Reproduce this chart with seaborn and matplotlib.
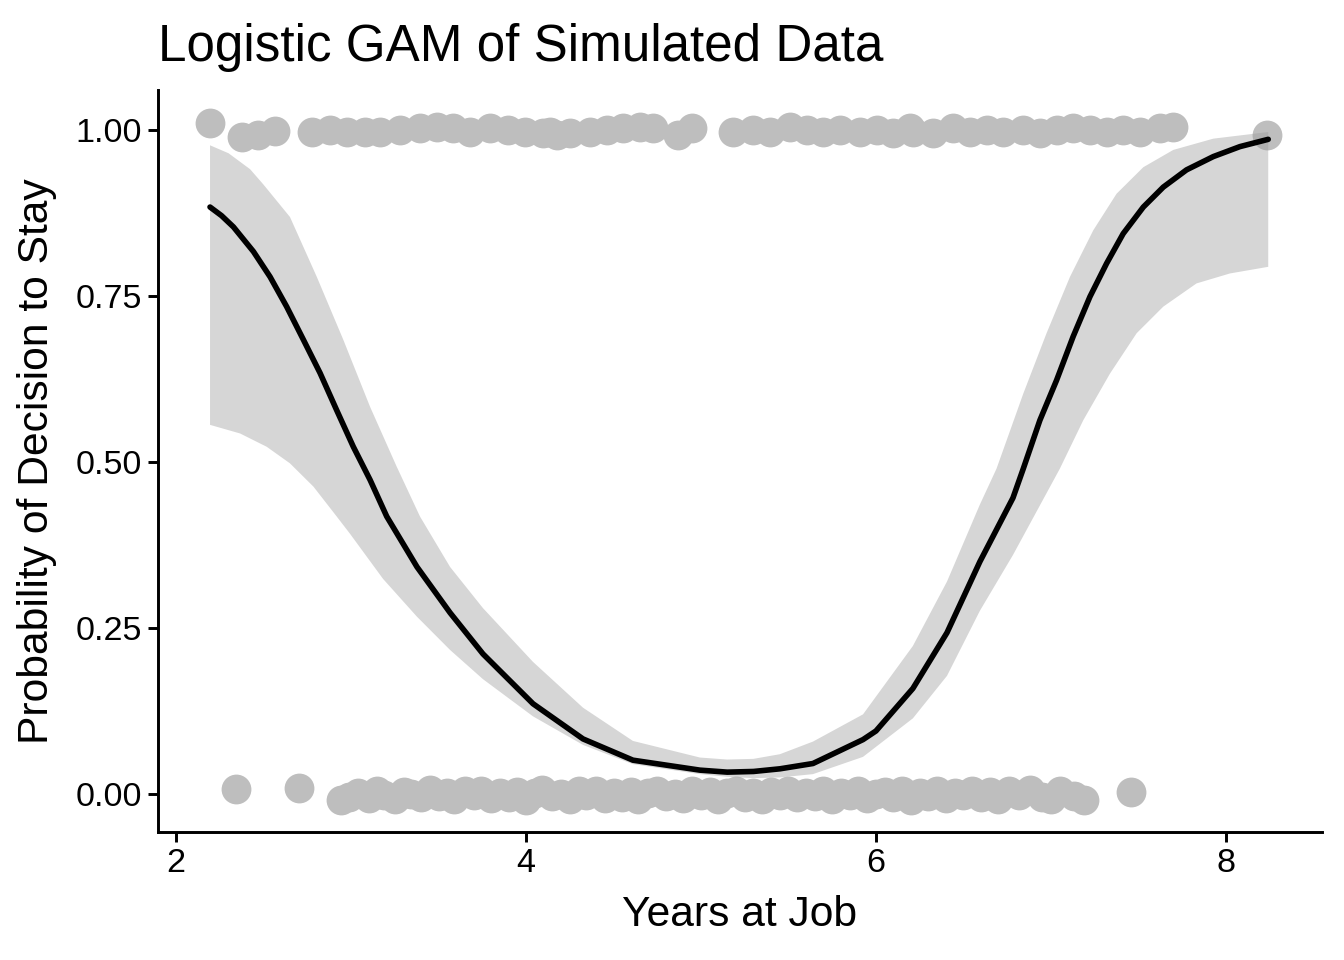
import matplotlib
matplotlib.use("Agg")
import matplotlib.pyplot as plt
import seaborn as sns
import pandas as pd

# observed points, decision to stay = 1 (x, jittered y)
stay_x = [2.194, 2.377, 2.469, 2.566, 2.777, 2.880, 2.977, 3.080, 3.166, 3.280,
          3.394, 3.491, 3.583, 3.680, 3.794, 3.897, 3.994, 4.097, 4.137, 4.177,
          4.251, 4.366, 4.463, 4.554, 4.651, 4.726, 4.869, 4.949, 5.183, 5.297,
          5.394, 5.509, 5.606, 5.697, 5.794, 5.909, 6.006, 6.097, 6.194, 6.211,
          6.326, 6.440, 6.537, 6.634, 6.726, 6.840, 6.937, 7.034, 7.126, 7.223,
          7.320, 7.411, 7.509, 7.623, 7.697, 8.234]
stay_y = [1.011, 0.990, 0.993, 0.998, 0.997, 1.000, 0.997, 0.997, 0.997, 1.000,
          1.003, 1.005, 1.003, 0.997, 1.003, 1.000, 0.997, 0.995, 0.997, 0.992,
          0.995, 0.997, 1.000, 1.003, 1.005, 1.003, 0.992, 1.003, 0.997, 1.000,
          0.997, 1.005, 1.000, 0.997, 1.000, 0.997, 1.000, 0.995, 1.003, 0.997,
          0.995, 1.003, 0.997, 1.000, 0.997, 1.000, 0.995, 1.000, 1.003, 1.000,
          0.997, 1.000, 0.997, 1.003, 1.005, 0.993]

# observed points, decision to stay = 0
leave_x = [2.34, 2.70, 2.94, 2.99, 3.04, 3.10, 3.15, 3.19, 3.25, 3.30, 3.34, 3.40,
           3.45, 3.50, 3.55, 3.59, 3.65, 3.70, 3.74, 3.80, 3.85, 3.90, 3.95, 4.00,
           4.05, 4.09, 4.15, 4.20, 4.25, 4.30, 4.34, 4.40, 4.45, 4.50, 4.55, 4.60,
           4.64, 4.70, 4.75, 4.80, 4.85, 4.90, 4.95, 5.00, 5.05, 5.10, 5.15, 5.20,
           5.25, 5.30, 5.35, 5.40, 5.45, 5.50, 5.55, 5.60, 5.65, 5.70, 5.75, 5.80,
           5.85, 5.90, 5.95, 6.00, 6.05, 6.10, 6.15, 6.20, 6.25, 6.30, 6.35, 6.40,
           6.45, 6.50, 6.55, 6.60, 6.65, 6.70, 6.76, 6.82, 6.88, 6.95, 7.00, 7.05,
           7.13, 7.19, 7.46]
leave_y = [0.008, 0.009, -0.009, -0.004, 0.002, -0.006, 0.004, -0.002, -0.008, 0.003,
           0.000, -0.005, 0.006, -0.003, 0.002, -0.008, 0.004, -0.001, 0.005, -0.006,
           0.001, -0.004, 0.003, -0.009, 0.002, 0.006, -0.003, 0.000, -0.007, 0.004,
           -0.002, 0.005, -0.006, 0.001, -0.004, 0.003, -0.008, 0.002, 0.005, -0.003,
           0.000, -0.006, 0.004, -0.002, 0.003, -0.007, 0.001, 0.005, -0.004, 0.002,
           -0.008, 0.003, -0.001, 0.004, -0.005, 0.001, -0.003, 0.005, -0.007, 0.002,
           -0.002, 0.004, -0.006, 0.000, 0.003, -0.004, 0.005, -0.009, 0.001, -0.003,
           0.004, -0.006, 0.002, -0.001, 0.005, -0.005, 0.003, -0.008, 0.004, -0.002,
           0.006, -0.004, -0.007, 0.004, -0.003, -0.009, 0.003]

# fitted GAM curve
fit_x = [2.194, 2.260, 2.328, 2.442, 2.537, 2.632, 2.728, 2.823, 2.918, 3.013,
         3.109, 3.204, 3.377, 3.566, 3.754, 4.04, 4.326, 4.611, 4.994, 5.15,
         5.30, 5.451, 5.64, 5.926, 6.0, 6.211, 6.406, 6.594, 6.783, 6.842,
         6.937, 7.032, 7.127, 7.223, 7.318, 7.413, 7.528, 7.642, 7.775, 7.928,
         8.08, 8.242]
fit_y = [0.884, 0.871, 0.854, 0.817, 0.779, 0.734, 0.684, 0.634, 0.578, 0.523,
         0.473, 0.418, 0.342, 0.273, 0.211, 0.136, 0.083, 0.051, 0.036, 0.033,
         0.034, 0.038, 0.046, 0.082, 0.095, 0.159, 0.243, 0.350, 0.446, 0.490,
         0.563, 0.623, 0.689, 0.749, 0.799, 0.844, 0.884, 0.914, 0.940, 0.960,
         0.975, 0.986]

# upper and lower limits of the confidence band
hi_x = [2.194, 2.300, 2.423, 2.499, 2.651, 2.804, 2.956, 3.109, 3.261, 3.394,
        3.566, 3.754, 4.04, 4.326, 4.611, 4.994, 5.15, 5.30, 5.451, 5.64,
        5.926, 6.211, 6.406, 6.594, 6.689, 6.842, 6.975, 7.109, 7.242, 7.375,
        7.528, 7.699, 7.928, 8.242]
hi_y = [0.977, 0.965, 0.941, 0.918, 0.869, 0.779, 0.684, 0.583, 0.493, 0.418,
        0.342, 0.280, 0.199, 0.130, 0.080, 0.055, 0.052, 0.053, 0.060, 0.079,
        0.120, 0.223, 0.320, 0.436, 0.490, 0.603, 0.694, 0.779, 0.849, 0.904,
        0.944, 0.970, 0.987, 0.997]
lo_x = [2.194, 2.366, 2.518, 2.651, 2.785, 2.918, 2.994, 3.183, 3.377, 3.566,
        3.754, 4.04, 4.326, 4.611, 4.994, 5.15, 5.30, 5.451, 5.64, 5.926,
        6.211, 6.406, 6.594, 6.783, 7.051, 7.185, 7.337, 7.49, 7.642, 7.832,
        8.023, 8.242]
lo_y = [0.556, 0.543, 0.523, 0.498, 0.463, 0.418, 0.392, 0.324, 0.267, 0.217,
        0.173, 0.117, 0.074, 0.045, 0.030, 0.026, 0.024, 0.025, 0.030, 0.056,
        0.114, 0.178, 0.276, 0.360, 0.490, 0.563, 0.633, 0.694, 0.734, 0.769,
        0.784, 0.794]

points = pd.DataFrame({
    "years": stay_x + leave_x,
    "stay": stay_y + leave_y,
})
fit = pd.DataFrame({"years": fit_x, "prob": fit_y})

sns.set_style("ticks")
plt.rcParams["font.family"] = ["Liberation Sans", "DejaVu Sans"]
plt.rcParams["text.color"] = "black"
plt.rcParams["axes.labelcolor"] = "black"

fig = plt.figure(figsize=(7, 5), dpi=192)
ax = fig.add_axes([0.1176, 0.1333, 0.866, 0.7729])

sns.scatterplot(data=points, x="years", y="stay", color="#BEBEBE",
                s=125, linewidth=0, alpha=1, ax=ax)
# band outline: upper edge left to right, then lower edge back
ax.fill(hi_x + lo_x[::-1], hi_y + lo_y[::-1], color="#999999",
        alpha=0.4, linewidth=0)
sns.lineplot(data=fit, x="years", y="prob", color="black", linewidth=2.1, ax=ax)

ax.set_xlim(1.897, 8.549)
ax.set_ylim(-0.0572, 1.0602)
ax.set_xticks([2, 4, 6, 8])
ax.set_yticks([0, 0.25, 0.5, 0.75, 1.0])
ax.set_yticklabels(["0.00", "0.25", "0.50", "0.75", "1.00"])

for side in ["top", "right"]:
    ax.spines[side].set_visible(False)
for side in ["left", "bottom"]:
    ax.spines[side].set_linewidth(1.1)
    ax.spines[side].set_color("black")
ax.tick_params(axis="both", length=3.6, width=1.1, color="black",
               labelsize=12.8, labelcolor="black", pad=2.5)

ax.set_title("Logistic GAM of Simulated Data", loc="left", fontsize=19.2, pad=11)
ax.set_xlabel("Years at Job", fontsize=16, labelpad=6)
ax.set_ylabel("Probability of Decision to Stay", fontsize=16, labelpad=7)

fig.savefig("out.png", dpi=192)
